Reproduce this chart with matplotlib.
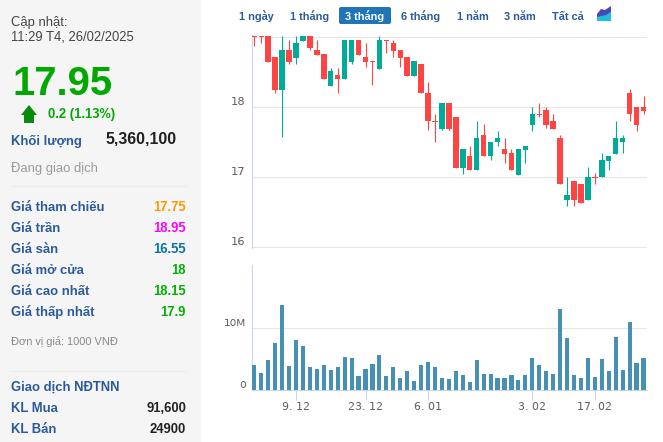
"""Stock quote card: price panel on the left, candles and volume on the right."""
import numpy as np
import matplotlib
matplotlib.use("Agg")
import matplotlib.pyplot as plt
from matplotlib.patches import FancyBboxPatch, Polygon, Rectangle

plt.rcParams['font.family'] = ['Liberation Sans', 'DejaVu Sans']
plt.rcParams['text.hinting'] = 'no_autohint'

W, H = 663, 442
RED = '#ff4444'
TEAL = '#00ac98'
BLUE = '#4690b4'
NAVY = '#2a5a9c'
GREEN = '#00a800'

opens = [19.02, 19.02, 19.02, 18.72, 18.25, 18.82, 18.71, 18.95, 19.02, 18.82,
         18.76, 18.31, 18.46, 18.41, 18.65, 18.96, 18.72, 18.66, 18.55, 18.96,
         18.92, 18.82, 18.72, 18.45, 18.62, 18.20, 17.80, 17.69, 18.06, 17.86,
         17.14, 17.30, 17.10, 17.60, 17.30, 17.50, 17.40, 17.35, 17.04, 17.39,
         17.75, 17.90, 17.96, 17.80, 17.56, 16.68, 16.95, 16.90, 16.68, 17.00,
         17.00, 17.24, 17.34, 17.50, 18.20, 18.00, 18.00]
closes = [19.01, 19.01, 18.65, 18.25, 18.82, 18.65, 18.92, 19.02, 18.85, 18.75,
          18.41, 18.52, 18.41, 18.96, 18.96, 18.75, 18.65, 18.65, 18.96, 18.95,
          18.81, 18.71, 18.45, 18.66, 18.20, 17.80, 17.79, 18.06, 17.69, 17.14,
          17.40, 17.10, 17.56, 17.30, 17.50, 17.56, 17.34, 17.10, 17.40, 17.45,
          17.90, 17.89, 17.75, 17.69, 16.90, 16.75, 16.68, 16.64, 17.00, 16.99,
          17.25, 17.30, 17.56, 17.56, 17.90, 17.75, 17.95]
highs = [19.02, 19.02, 19.02, 18.72, 19.02, 18.96, 19.02, 19.02, 19.02, 18.96,
         18.76, 18.56, 18.56, 18.96, 18.96, 18.96, 18.92, 18.66, 19.02, 18.96,
         18.96, 18.82, 18.72, 18.66, 18.62, 18.36, 17.90, 18.06, 18.06, 17.86,
         17.40, 17.45, 17.80, 17.76, 17.50, 17.66, 17.56, 17.40, 17.40, 17.45,
         18.00, 18.06, 18.00, 17.90, 17.60, 17.00, 16.95, 16.90, 17.15, 17.06,
         17.35, 17.30, 17.80, 17.60, 18.26, 18.00, 18.16]
lows = [18.87, 18.92, 18.65, 18.21, 17.57, 18.62, 18.62, 18.95, 18.82, 18.75,
        18.41, 18.31, 18.21, 18.41, 18.62, 18.75, 18.57, 18.32, 18.55, 18.77,
        18.72, 18.57, 18.45, 18.45, 18.20, 17.67, 17.51, 17.67, 17.67, 17.14,
        17.05, 17.10, 17.10, 17.30, 17.25, 17.45, 17.21, 17.10, 17.04, 17.20,
        17.66, 17.86, 17.70, 17.69, 16.90, 16.59, 16.59, 16.64, 16.68, 16.90,
        17.00, 17.10, 17.34, 17.35, 17.80, 17.66, 17.90]
volumes = [4.05, 2.76, 4.86, 7.6, 13.8, 3.9, 8.1, 7.1, 3.7, 3.4,
           4.05, 3.25, 3.7, 5.35, 5.2, 2.27, 3.4, 4.2, 5.7, 2.27,
           3.7, 1.95, 3.1, 1.46, 4.05, 4.54, 3.7, 1.95, 1.78, 3.1,
           2.43, 1.3, 4.86, 2.6, 2.6, 1.95, 1.95, 2.43, 1.62, 2.43,
           5.2, 4.05, 3.1, 2.6, 13.1, 8.4, 2.43, 1.95, 5.2, 2.1,
           5.0, 3.1, 8.6, 3.25, 11.0, 4.4, 5.2]

date_ticks = [6, 16, 25, 40, 49]
date_labels = ['9. 12', '23. 12', '6. 01', '3. 02', '17. 02']
price_ticks = [16, 17, 18, 19]
ranges = ['1 ngày', '1 tháng', '3 tháng', '6 tháng', '1 năm', '3 năm', 'Tất cả']
range_x = [256, 310, 365, 420.5, 472.5, 520, 568]
info_rows = [('Giá tham chiếu', '17.75', '#ff9900'), ('Giá trần', '18.95', '#ff00ff'),
             ('Giá sàn', '16.55', '#0a6ea8'), ('Giá mở cửa', '18', '#00b000'),
             ('Giá cao nhất', '18.15', '#00b000'), ('Giá thấp nhất', '17.9', '#00b000')]
foreign_rows = [('KL Mua', '91,600'), ('KL Bán', '24900')]


def px_axes(fig, left, top, right, bottom):
    return fig.add_axes([left / W, 1 - bottom / H, (right - left) / W, (bottom - top) / H])


def fpx(size):
    return size * 0.72


def main():
    fig = plt.figure(figsize=(W / 100, H / 100), dpi=100, facecolor='white')

    # page overlay in pixel coordinates, for the card text
    page = fig.add_axes([0, 0, 1, 1])
    page.set_xlim(0, W)
    page.set_ylim(H, 0)
    page.axis('off')
    page.add_patch(Rectangle((0, 0), 201, H, color='#f5f5f5', lw=0))

    page.text(11, 26, 'Cập nhật:', fontsize=fpx(13), color='#444444')
    page.text(11, 40.7, '11:29 T4, 26/02/2025', fontsize=fpx(13), color='#444444')
    page.text(12, 95, '17.95', fontsize=fpx(40), color=GREEN, weight='bold')
    page.add_patch(Polygon([(21, 115), (29, 105), (37, 115), (34, 115), (34, 123), (24, 123), (24, 115)],
                           color='#0a8a0a', lw=0))
    page.text(48, 118, '0.2 (1.13%)', fontsize=fpx(13), color=GREEN, weight='bold')
    page.text(11, 145, 'Khối lượng', fontsize=fpx(13), color=NAVY, weight='bold')
    page.text(106, 143.5, '5,360,100', fontsize=fpx(16), color='#222222', weight='bold')
    page.text(11, 171.7, 'Đang giao dịch', fontsize=fpx(13), color='#999999')
    page.plot([11, 186], [185.5, 185.5], color='#ebebeb', lw=0.8)

    for k, (name, val, col) in enumerate(info_rows):
        y = 210.7 + k * 21
        page.text(11, y, name, fontsize=fpx(13), color=NAVY, weight='bold')
        page.text(186, y, val, fontsize=fpx(13), color=col, weight='bold', ha='right')
    page.text(11, 345, 'Đơn vị giá: 1000 VNĐ', fontsize=fpx(11), color='#888888')
    page.plot([11, 186], [370.5, 370.5], color='#ebebeb', lw=0.8)
    page.text(11, 391, 'Giao dịch NĐTNN', fontsize=fpx(13), color=NAVY, weight='bold')
    for k, (name, val) in enumerate(foreign_rows):
        y = 412 + k * 21
        page.text(11, y, name, fontsize=fpx(13), color=NAVY, weight='bold')
        page.text(186, y, val, fontsize=fpx(13), color='#222222', weight='bold', ha='right')

    # range selector
    page.add_patch(FancyBboxPatch((339, 7), 52, 17, boxstyle='round,pad=0,rounding_size=2',
                                  color='#1f75b8', lw=0))
    for label, x in zip(ranges, range_x):
        col = 'white' if label == '3 tháng' else NAVY
        page.text(x, 19.5, label, fontsize=fpx(11), color=col, weight='bold', ha='center')
    page.add_patch(Polygon([(597, 21), (597, 14), (606, 12), (611, 8), (611, 21)], color='#22c0d8', lw=0))
    page.add_patch(Polygon([(597, 14), (601, 9), (605, 10), (611, 6), (611, 12), (606, 15), (597, 17)],
                           color='#4a48b8', lw=0))

    # candles
    x = np.arange(len(opens))
    x_lim = ((251.5 - 254.3) / 6.95, (647 - 254.3) / 6.95)
    ax = px_axes(fig, 251.5, 35, 647, 248)
    ax.set_xlim(*x_lim)
    ax.set_ylim(16 - 0.7 / 70, 18 + 72.3 / 70)
    opens_a, closes_a = np.array(opens), np.array(closes)
    colors = [TEAL if c > o else RED for o, c in zip(opens_a, closes_a)]
    ax.vlines(x, lows, highs, colors=colors, lw=0.8, zorder=2)
    ax.bar(x, np.abs(closes_a - opens_a), bottom=np.minimum(opens_a, closes_a), width=0.78,
           color=colors, lw=0, zorder=3)

    # volume
    vax = px_axes(fig, 251.5, 265, 647, 390)
    vax.set_xlim(*x_lim)
    vax.set_ylim(0, 125 / 6.17)
    vax.bar(x, volumes, width=0.6, color=BLUE, lw=0, zorder=3)

    for a in (ax, vax):
        a.patch.set_alpha(0)
        for side in ('top', 'right'):
            a.spines[side].set_visible(False)
        a.spines['left'].set_color('#ccd6eb')
        a.spines['left'].set_linewidth(0.8)
        a.grid(axis='y', color='#e6e6e6', lw=0.8)
        a.set_axisbelow(True)
        a.tick_params(axis='y', length=0)

    ax.spines['bottom'].set_visible(False)
    ax.set_xticks([])
    ax.set_yticks(price_ticks)
    ax.set_yticklabels([])
    for p in price_ticks[:-1]:
        ax.annotate(str(p), (0, p), xycoords=('axes fraction', 'data'), xytext=(-6, 5.5),
                    textcoords='offset pixels', ha='right', va='center', fontsize=fpx(11.5),
                    color='#666666', family='DejaVu Sans')

    vax.spines['bottom'].set_color('#ccd6eb')
    vax.spines['bottom'].set_linewidth(0.8)
    vax.set_yticks([0, 10])
    vax.set_yticklabels([])
    for v, lab in [(0, '0'), (10, '10M')]:
        vax.annotate(lab, (0, v), xycoords=('axes fraction', 'data'), xytext=(-5.5, 5.5),
                     textcoords='offset pixels', ha='right', va='center', fontsize=fpx(10.5),
                     color='#666666', family='DejaVu Sans')
    vax.set_xticks(date_ticks)
    vax.set_xticklabels(date_labels, fontsize=fpx(11), color='#666666', family='DejaVu Sans')
    vax.tick_params(axis='x', length=7.2, width=0.8, color='#ccd6eb', pad=1)

    fig.savefig('out.png', dpi=100)


if __name__ == '__main__':
    main()
